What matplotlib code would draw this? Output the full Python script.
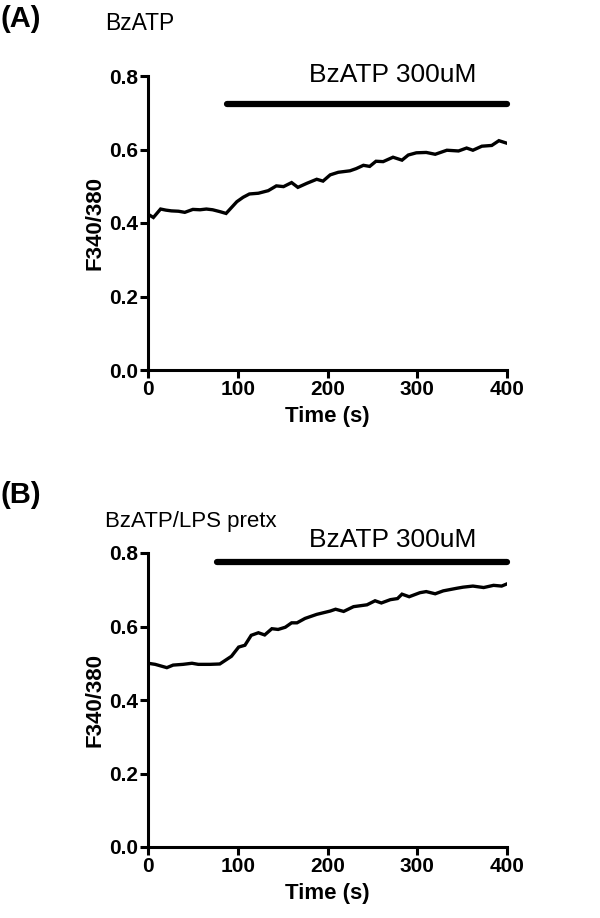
import matplotlib
matplotlib.use("Agg")
import matplotlib.pyplot as plt

plt.rcParams['font.family'] = ['Liberation Sans', 'DejaVu Sans']

# Panel A: BzATP
time_a = [0, 6, 14, 20, 26, 34, 41, 50, 58, 65, 72, 80, 87, 93, 99, 106, 113, 123, 134, 143,
          151, 160, 167, 177, 188, 195, 203, 212, 225, 232, 240, 247, 254, 262, 273, 283,
          290, 299, 310, 320, 333, 346, 355, 362, 372, 383, 391, 400]
ratio_a = [0.424, 0.415, 0.438, 0.435, 0.433, 0.432, 0.429, 0.437, 0.436, 0.438, 0.436, 0.431,
           0.426, 0.442, 0.458, 0.470, 0.479, 0.481, 0.488, 0.501, 0.499, 0.510, 0.497, 0.508,
           0.519, 0.514, 0.531, 0.538, 0.542, 0.548, 0.557, 0.554, 0.568, 0.567, 0.579, 0.571,
           0.585, 0.591, 0.592, 0.587, 0.598, 0.596, 0.604, 0.598, 0.609, 0.611, 0.624, 0.617]

# Panel B: BzATP / LPS pretreatment
time_b = [0, 8, 21, 28, 39, 49, 56, 69, 80, 93, 101, 108, 115, 123, 130, 138, 145, 153, 160,
          166, 175, 188, 203, 209, 218, 229, 244, 253, 260, 270, 278, 283, 291, 303, 310, 320,
          329, 344, 351, 362, 374, 385, 394, 400]
ratio_b = [0.500, 0.497, 0.488, 0.495, 0.497, 0.500, 0.497, 0.497, 0.498, 0.519, 0.544, 0.549,
           0.576, 0.583, 0.577, 0.594, 0.592, 0.598, 0.610, 0.610, 0.622, 0.633, 0.642, 0.647,
           0.641, 0.654, 0.659, 0.670, 0.664, 0.673, 0.676, 0.688, 0.681, 0.692, 0.695, 0.689,
           0.697, 0.704, 0.707, 0.710, 0.706, 0.712, 0.710, 0.716]

bar_a = (88, 400, 0.725)
bar_b = (77, 400, 0.775)
label_y_a = 0.803
label_y_b = 0.835
xticks = [0, 100, 200, 300, 400]
yticks = [0.0, 0.2, 0.4, 0.6, 0.8]

fig = plt.figure(figsize=(6.0, 9.18), dpi=100)
W, H = 600, 918

def make_ax(top_px, bottom_px):
    left, right = 148, 507
    return fig.add_axes([left / W, (H - bottom_px) / H, (right - left) / W, (bottom_px - top_px) / H])

axA = make_ax(76, 370)
axB = make_ax(553, 847)

for ax, t, r, bar, ly in [(axA, time_a, ratio_a, bar_a, label_y_a),
                          (axB, time_b, ratio_b, bar_b, label_y_b)]:
    ax.plot(t, r, color='black', lw=2.4, solid_joinstyle='miter')
    ax.plot([bar[0], bar[1]], [bar[2], bar[2]], color='black', lw=4.5,
            solid_capstyle='round', clip_on=False)
    ax.text(273, ly, 'BzATP 300uM', ha='center', va='center', fontsize=19, clip_on=False)
    ax.set_xlim(0, 400)
    ax.set_ylim(0, 0.8)
    ax.set_xticks(xticks)
    ax.set_yticks(yticks)
    ax.set_xticklabels([str(x) for x in xticks], fontweight='bold', fontsize=15)
    ax.set_yticklabels(['%.1f' % y for y in yticks], fontweight='bold', fontsize=15)
    for s in ['top', 'right']:
        ax.spines[s].set_visible(False)
    for s in ['left', 'bottom']:
        ax.spines[s].set_linewidth(2.2)
    ax.tick_params(direction='out', length=6, width=2.2, pad=1)
    ax.set_xlabel('Time (s)', fontweight='bold', fontsize=16, labelpad=5)
    ax.set_ylabel('F340/380', fontweight='bold', fontsize=16, labelpad=3)

fig.text(0 / W, 1 - 19 / H, '(A)', fontweight='bold', fontsize=21, va='center', ha='left')
fig.text(105 / W, 1 - 23 / H, 'BzATP', fontsize=16.5, va='center', ha='left')
fig.text(0 / W, 1 - 495 / H, '(B)', fontweight='bold', fontsize=21, va='center', ha='left')
fig.text(105 / W, 1 - 522 / H, 'BzATP/LPS pretx', fontsize=16, va='center', ha='left')

fig.savefig('out.png', dpi=100)
